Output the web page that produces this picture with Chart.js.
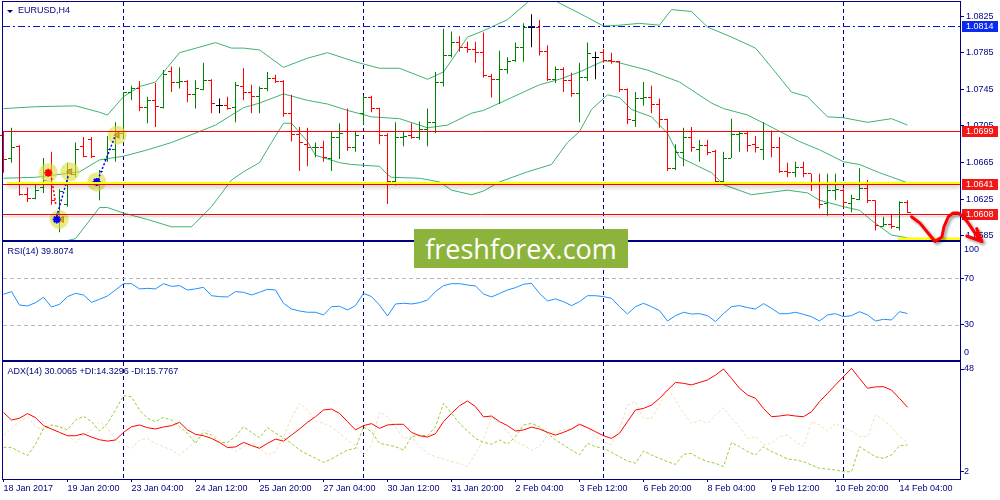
<!DOCTYPE html>
<html>
<head>
<meta charset="utf-8">
<title>EURUSD,H4</title>
<script src="https://cdn.jsdelivr.net/npm/chart.js@4.4.1/dist/chart.umd.min.js"></script>
<style>
  html, body { margin: 0; padding: 0; background: #ffffff; }
  #wrap { position: relative; width: 1000px; height: 500px; overflow: hidden; background: #ffffff; }
  #wrap canvas { position: absolute; left: 0; }
  #c-main { top: 0; z-index: 3; }
  #c-rsi  { top: 240px; z-index: 2; }
  #c-adx  { top: 360px; z-index: 1; }
  #logo {
    position: absolute; left: 414px; top: 229px; width: 214px; height: 39px; z-index: 5;
    background: #8cb43c; color: #ffffff; text-align: center;
    font: 27px "Open Sans", sans-serif; line-height: 39px;
  }
</style>
</head>
<body>
<div id="wrap">
  <canvas id="c-main" width="1000" height="250"></canvas>
  <canvas id="c-rsi" width="1000" height="122"></canvas>
  <canvas id="c-adx" width="1000" height="140"></canvas>
  <div id="logo">freshforex.com</div>
</div>
<script>
'use strict';

/* ── Data ─────────────────────────────────────────────────────────────── */

var tickBars   = [0, 8, 16, 24, 32, 40, 48, 56, 64, 72, 80, 88, 96, 104, 112];
var tickLabels = ['18 Jan 2017', '19 Jan 20:00', '23 Jan 04:00', '24 Jan 12:00', '25 Jan 20:00',
                  '27 Jan 04:00', '30 Jan 12:00', '31 Jan 20:00', '2 Feb 04:00', '3 Feb 12:00',
                  '6 Feb 20:00', '8 Feb 04:00', '9 Feb 12:00', '10 Feb 20:00', '14 Feb 04:00'];
var weekStarts = [15, 45, 75, 105];

var openP = [
  1.0695,1.0669,1.0683,1.0630,1.0626,1.0638,1.0654,1.0610,1.0619,1.0652,
  1.0683,1.0690,1.0641,1.0668,1.0679,1.0697,1.0742,1.0746,1.0725,1.0733,
  1.0725,1.0764,1.0752,1.0754,1.0739,1.0745,1.0755,1.0727,1.0727,1.0725,
  1.0748,1.0742,1.0737,1.0746,1.0757,1.0754,1.0719,1.0696,1.0685,1.0681,
  1.0682,1.0670,1.0692,1.0699,1.0682,1.0719,1.0736,1.0724,1.0695,1.0644,
  1.0692,1.0695,1.0692,1.0701,1.0709,1.0753,1.0782,1.0796,1.0791,1.0788,
  1.0785,1.0759,1.0756,1.0767,1.0777,1.0791,1.0813,1.0813,1.0786,1.0756,
  1.0767,1.0755,1.0741,1.0758,1.0780,1.0785,1.0777,1.0775,1.0745,1.0711,
  1.0735,1.0736,1.0729,1.0712,1.0659,1.0676,1.0692,1.0679,1.0684,1.0677,
  1.0644,1.0670,1.0696,1.0697,1.0685,1.0679,1.0699,1.0681,1.0655,1.0654,
  1.0660,1.0653,1.0641,1.0620,1.0635,1.0635,1.0620,1.0625,1.0637,1.0624,
  1.0595,1.0598,1.0594,1.0621];
var highP = [
  1.0699,1.0703,1.0684,1.0638,1.0641,1.0670,1.0677,1.0636,1.0665,1.0687,
  1.0693,1.0693,1.0657,1.0694,1.0709,1.0742,1.0749,1.0754,1.0737,1.0752,
  1.0766,1.0770,1.0769,1.0755,1.0755,1.0774,1.0756,1.0735,1.0737,1.0753,
  1.0768,1.0750,1.0748,1.0764,1.0761,1.0755,1.0739,1.0704,1.0703,1.0687,
  1.0689,1.0699,1.0708,1.0724,1.0699,1.0738,1.0738,1.0725,1.0697,1.0709,
  1.0699,1.0708,1.0710,1.0724,1.0764,1.0811,1.0808,1.0803,1.0797,1.0797,
  1.0807,1.0762,1.0787,1.0780,1.0796,1.0817,1.0827,1.0821,1.0793,1.0770,
  1.0769,1.0763,1.0774,1.0796,1.0786,1.0789,1.0785,1.0776,1.0746,1.0742,
  1.0753,1.0749,1.0735,1.0713,1.0685,1.0703,1.0704,1.0690,1.0690,1.0679,
  1.0677,1.0713,1.0699,1.0699,1.0694,1.0709,1.0700,1.0693,1.0665,1.0666,
  1.0666,1.0653,1.0653,1.0653,1.0653,1.0637,1.0630,1.0659,1.0646,1.0624,
  1.0606,1.0609,1.0623,1.0624];
var lowP = [
  1.0654,1.0665,1.0629,1.0622,1.0625,1.0632,1.0619,1.0589,1.0617,1.0649,
  1.0671,1.0670,1.0624,1.0666,1.0666,1.0695,1.0733,1.0721,1.0708,1.0704,
  1.0724,1.0742,1.0746,1.0731,1.0724,1.0744,1.0719,1.0719,1.0723,1.0709,
  1.0733,1.0719,1.0719,1.0743,1.0752,1.0715,1.0688,1.0656,1.0661,1.0671,
  1.0666,1.0656,1.0669,1.0678,1.0677,1.0707,1.0720,1.0685,1.0620,1.0640,
  1.0683,1.0691,1.0690,1.0683,1.0697,1.0748,1.0780,1.0786,1.0785,1.0774,
  1.0758,1.0736,1.0729,1.0762,1.0775,1.0775,1.0791,1.0782,1.0754,1.0752,
  1.0742,1.0737,1.0709,1.0754,1.0756,1.0774,1.0773,1.0742,1.0707,1.0704,
  1.0727,1.0719,1.0703,1.0656,1.0657,1.0661,1.0677,1.0666,1.0673,1.0641,
  1.0643,1.0670,1.0677,1.0677,1.0676,1.0668,1.0671,1.0654,1.0649,1.0649,
  1.0649,1.0634,1.0615,1.0607,1.0624,1.0616,1.0611,1.0624,1.0621,1.0591,
  1.0595,1.0593,1.0591,1.0610];
var closeP = [
  1.0668,1.0682,1.0630,1.0626,1.0635,1.0646,1.0624,1.0633,1.0657,1.0679,
  1.0672,1.0672,1.0655,1.0679,1.0695,1.0742,1.0746,1.0725,1.0733,1.0726,
  1.0761,1.0753,1.0754,1.0739,1.0746,1.0755,1.0730,1.0727,1.0724,1.0749,
  1.0742,1.0737,1.0746,1.0757,1.0754,1.0719,1.0696,1.0687,1.0681,1.0682,
  1.0671,1.0692,1.0697,1.0682,1.0695,1.0736,1.0724,1.0695,1.0644,1.0692,
  1.0694,1.0692,1.0701,1.0709,1.0753,1.0782,1.0796,1.0791,1.0788,1.0785,
  1.0760,1.0756,1.0767,1.0775,1.0791,1.0813,1.0813,1.0786,1.0756,1.0767,
  1.0755,1.0741,1.0758,1.0784,1.0780,1.0777,1.0775,1.0745,1.0712,1.0735,
  1.0736,1.0729,1.0712,1.0659,1.0676,1.0692,1.0682,1.0684,1.0676,1.0644,
  1.0670,1.0696,1.0697,1.0684,1.0682,1.0699,1.0681,1.0655,1.0654,1.0660,
  1.0653,1.0641,1.0619,1.0635,1.0636,1.0621,1.0626,1.0637,1.0624,1.0596,
  1.0598,1.0595,1.0621,1.0611];

// Bollinger bands, [bar, price]
var bbUpper = [[0,1.0724],[4,1.0726],[9,1.0727],[12,1.0720],[13,1.0717],[15,1.0737],[17,1.0748],
  [19,1.0753],[20.5,1.0769],[22,1.0785],[24.5,1.0791],[26.5,1.0796],[28.5,1.0790],[30,1.0790],
  [32,1.0788],[35,1.0769],[38,1.0779],[40.5,1.0785],[44,1.0775],[47,1.0768],[49.5,1.0768],
  [53,1.0756],[55,1.0764],[58,1.0802],[60,1.0809],[63,1.0821],[65.5,1.0840],[67.5,1.0851],
  [69.5,1.0839],[72,1.0828],[75,1.0814],[77,1.0815],[79.5,1.0817],[82,1.0815],[83.5,1.0832],
  [86,1.0830],[88,1.0813],[91,1.0802],[94,1.0790],[96,1.0769],[98.5,1.0742],[100.5,1.0737],
  [103,1.0715],[105,1.0714],[108,1.0709],[111,1.0713],[113,1.0706]];
var bbMiddle = [[0,1.0648],[4,1.0649],[9.5,1.0655],[12,1.0668],[15,1.0672],[18,1.0679],[21,1.0687],
  [24.5,1.0699],[26.5,1.0706],[30,1.0725],[32,1.0730],[35,1.0740],[38,1.0733],[40.5,1.0729],
  [43,1.0722],[46,1.0715],[49.5,1.0713],[53,1.0703],[55.5,1.0706],[58.5,1.0719],[60,1.0722],
  [63.5,1.0736],[67,1.0750],[69.5,1.0756],[72,1.0764],[75,1.0776],[76.5,1.0775],[80.5,1.0766],
  [84.5,1.0753],[88.5,1.0730],[90,1.0724],[93,1.0717],[95.5,1.0706],[99.5,1.0688],[102,1.0679],
  [105,1.0666],[107,1.0663],[109.5,1.0654],[113,1.0643]];
var bbLower = [[0,1.0572],[4,1.0572],[9,1.0582],[12,1.0616],[13,1.0616],[15,1.0610],[18,1.0603],
  [21,1.0595],[23.5,1.0595],[26,1.0617],[28.5,1.0646],[30,1.0655],[32,1.0665],[33.5,1.0687],
  [35,1.0708],[36,1.0708],[38,1.0688],[39,1.0673],[42,1.0665],[43.5,1.0663],[47,1.0661],
  [48,1.0652],[48.5,1.0649],[52,1.0648],[54.5,1.0644],[56,1.0635],[58.5,1.0630],[60,1.0634],
  [62,1.0644],[65.5,1.0655],[68.5,1.0663],[70.5,1.0687],[72,1.0699],[73.5,1.0723],[75.5,1.0739],
  [77,1.0736],[78.5,1.0723],[81,1.0715],[83,1.0697],[84.5,1.0671],[88.5,1.0654],[90,1.0641],
  [93.5,1.0630],[98,1.0635],[100.5,1.0632],[102,1.0624],[105,1.0617],[107,1.0613],[108.5,1.0602],
  [111,1.0586],[113,1.0583]];

var rsi = [
  56.3,58.6,47.1,46.3,49.1,53.7,45.4,47.7,54.3,57.1,
  55.7,49.4,52.0,54.9,60.0,65.4,65.4,60.9,61.4,60.9,
  65.4,63.1,63.7,60.0,60.9,62.3,55.1,54.3,54.0,58.6,
  58.0,55.7,58.0,60.6,60.0,48.6,43.7,42.0,40.9,40.9,
  38.6,45.7,46.0,42.9,46.6,57.1,54.3,47.1,37.7,48.0,
  48.6,48.0,49.1,51.4,58.6,63.7,65.4,65.4,64.3,63.4,
  56.6,54.0,57.0,60.0,62.0,64.9,65.7,57.1,50.6,52.3,
  50.0,46.6,50.0,55.1,55.1,54.3,52.9,45.7,39.4,45.7,
  48.6,45.7,42.3,33.4,38.0,40.9,39.4,39.7,38.0,32.9,
  39.7,45.7,46.6,44.9,43.7,48.3,44.3,39.7,39.7,40.9,
  39.1,37.1,33.4,38.6,39.7,37.1,38.0,41.4,38.6,33.4,
  34.9,34.3,41.4,39.8];

var adx = [
  28.6,25.2,26.0,28.1,26.3,22.7,21.2,19.7,18.2,18.2,
  19.1,17.6,16.4,15.8,16.3,19.7,22.2,23.0,21.8,21.2,
  22.1,22.7,24.2,20.8,18.8,18.2,17.0,15.2,12.9,13.2,
  15.2,13.8,12.6,14.8,16.7,15.8,18.5,21.2,24.2,26.7,
  29.7,30.1,28.2,24.5,20.8,22.7,23.6,21.5,23.0,23.3,
  23.3,19.7,18.2,17.6,19.1,24.5,28.2,31.6,33.7,31.2,
  26.6,27.0,24.5,22.7,20.3,20.8,22.0,21.2,19.7,18.5,
  19.7,21.2,23.3,21.8,20.0,18.2,17.0,19.3,24.5,29.7,
  30.4,31.9,34.9,38.6,42.0,41.6,40.9,42.0,43.1,45.3,
  48.0,43.8,39.4,36.4,34.9,30.4,26.7,27.0,27.5,27.0,
  26.7,28.9,33.4,37.1,40.9,44.6,48.3,43.8,39.4,40.0,
  40.1,38.6,34.9,30.9];
var plusDI = [
  13.0,13.0,11.1,9.3,14.4,21.5,23.0,22.2,20.8,25.2,
  26.9,24.5,20.3,23.7,29.7,36.1,35.6,29.7,26.0,24.5,
  26.4,25.2,22.2,19.3,14.8,19.7,18.5,15.2,15.2,17.8,
  22.2,19.7,17.3,21.8,19.3,17.3,14.8,11.8,9.9,8.1,
  6.3,7.8,9.9,11.8,12.6,22.2,20.0,14.8,14.1,13.3,
  11.8,17.8,18.5,18.2,22.2,32.7,28.2,23.7,20.3,17.0,
  15.2,14.4,16.3,14.4,17.8,23.0,23.7,22.2,19.3,16.3,
  14.1,11.8,9.6,14.8,13.3,12.6,10.8,8.8,6.9,5.9,
  11.4,9.6,8.1,6.6,5.4,9.9,10.3,8.1,6.6,5.9,
  4.4,15.2,13.3,11.1,9.6,13.3,11.1,9.6,7.8,7.4,
  6.6,5.1,3.6,3.3,2.9,2.1,2.1,13.3,11.1,8.8,
  8.1,9.6,13.8,14.1];
var minusDI = [
  18.5,21.5,24.5,26.7,22.2,20.8,22.7,22.2,18.5,15.2,
  18.5,20.8,24.5,21.5,16.3,14.1,12.6,16.3,17.0,14.8,
  13.3,11.8,9.6,12.6,15.5,20.8,19.7,16.3,14.1,11.1,
  13.3,14.8,12.6,9.6,11.1,17.8,26.0,32.7,29.7,24.8,
  23.7,22.2,19.3,16.3,13.8,9.6,14.1,28.9,26.7,22.2,
  17.0,17.8,13.3,10.3,8.8,7.8,6.6,5.9,4.4,10.3,
  16.3,26.7,23.7,20.0,15.5,14.1,11.8,13.3,18.5,20.0,
  20.8,21.5,23.7,21.5,17.8,15.5,14.1,21.5,31.9,33.4,
  26.0,26.0,31.9,39.4,34.2,28.2,23.7,25.2,23.7,27.5,
  30.7,26.0,22.2,17.0,17.8,14.1,14.8,17.8,18.5,15.5,
  13.3,24.5,23.0,20.3,23.7,21.5,20.3,17.8,17.8,27.5,
  25.2,22.2,17.8,15.2];

var priceTicks = [1.0585, 1.0625, 1.0665, 1.0705, 1.0745, 1.0785, 1.0825];
var levels     = [1.0814, 1.0699, 1.0641, 1.0608];

// trade marks and hand-drawn annotations, [bar, price]
var tradeCircles = [[5.6,1.0654],[8.3,1.0655],[6.95,1.0603],[11.65,1.0644],[14.2,1.0695]];
var sellMarks    = [[5.6,1.0654]];
var buyMarks     = [[6.65,1.0603],[11.65,1.0644]];
var exitMarks    = [[7.27,1.0603],[8.31,1.0655],[14.23,1.0695]];
var buyPathA     = [[6.65,1.0606],[8.1,1.0651]];
var buyPathB     = [[11.8,1.0646],[13.9,1.0693]];
var sellPath     = [[6.0,1.0648],[6.55,1.0619]];
var highlightPrice = [1.0643, 1.0582];
var highlightFrom  = [0.45, 111.8];
var arrowBars   = [113.5, 114.56, 115.4, 116.44, 117.3, 117.56, 118.1, 118.7, 119.35, 119.97, 120.6, 121.44, 122.3];
var arrowPrices = [1.0606, 1.0599, 1.0590, 1.0579, 1.0584, 1.0595, 1.0606, 1.0610, 1.0610, 1.0606, 1.0599, 1.0588, 1.0579];
var arrowHead   = [[120.4,1.0585],[121.65,1.0593]];

/* ── Look ──────────────────────────────────────────────────────────────── */

var NAVY = '#000080';
var FONT = '9px "Liberation Sans", Arial, sans-serif';
var UP = '#008000', DOWN = '#ff0000', DOJI = '#000000';
var BB = '#3cb371';

Chart.defaults.font.family = '"Liberation Sans", Arial, sans-serif';
Chart.defaults.font.size = 9;
Chart.defaults.color = NAVY;

// 8 px per bar over a 957 px plot area
var X_MIN = -0.0625;
var X_MAX = X_MIN + 957 / 8;

function barColor(i) {
  return closeP[i] > openP[i] ? UP : (closeP[i] < openP[i] ? DOWN : DOJI);
}
function pts(pairs) { return pairs.map(function (p) { return { x: p[0], y: p[1] }; }); }
function series(arr) { return arr.map(function (v, i) { return { x: i, y: v }; }); }

function xAxis(show) {
  return {
    type: 'linear', min: X_MIN, max: X_MAX, display: show, offset: false,
    grid: { offset: false, drawOnChartArea: false, drawTicks: true, tickLength: 3, color: NAVY },
    border: { display: false },
    ticks: {
      color: NAVY, align: 'start', autoSkip: false, maxRotation: 0, minRotation: 0, padding: 1,
      callback: function (v) { var k = tickBars.indexOf(v); return k < 0 ? '' : tickLabels[k]; }
    },
    afterBuildTicks: function (s) { s.ticks = tickBars.map(function (b) { return { value: b }; }); },
    afterFit: function (s) { s.paddingLeft = 0; s.paddingRight = 0; if (show) s.height = 21; }
  };
}

function yAxis(min, max, ticks, fmt, pad) {
  return {
    position: 'right', min: min, max: max,
    grid: { drawOnChartArea: false, drawTicks: true, tickLength: 4, color: NAVY },
    border: { display: false },
    ticks: { color: NAVY, padding: pad, autoSkip: false, callback: fmt },
    afterBuildTicks: function (s) { s.ticks = ticks.map(function (v) { return { value: v }; }); },
    afterFit: function (s) { s.width = 40; s.paddingTop = 0; s.paddingBottom = 0; }
  };
}

function options(pad, scales) {
  return {
    responsive: false, animation: false, events: [],
    layout: { padding: pad, autoPadding: false },
    plugins: { legend: { display: false }, tooltip: { enabled: false } },
    scales: scales
  };
}

/* ── Shared panel plugin: frame, week separators, caption ──────────────── */

function panelPlugin(caption, withArrowHead) {
  return {
    id: 'panel',
    beforeDatasetsDraw: function (chart) {
      var ctx = chart.ctx, a = chart.chartArea, x = chart.scales.x;
      ctx.save();
      ctx.strokeStyle = NAVY; ctx.lineWidth = 1; ctx.setLineDash([4, 3]);
      weekStarts.forEach(function (b) {
        var px = x.getPixelForValue(b);
        ctx.beginPath(); ctx.moveTo(px, a.top); ctx.lineTo(px, a.bottom); ctx.stroke();
      });
      ctx.restore();
    },
    afterDraw: function (chart) {
      var ctx = chart.ctx, a = chart.chartArea;
      ctx.save();
      ctx.strokeStyle = NAVY; ctx.lineWidth = 1;
      ctx.strokeRect(a.left - 0.5, a.top - 0.5, a.right - a.left + 1, a.bottom - a.top + 1);
      ctx.fillStyle = NAVY; ctx.font = FONT; ctx.textBaseline = 'middle'; ctx.textAlign = 'left';
      if (withArrowHead) {
        ctx.beginPath(); ctx.moveTo(7, 10); ctx.lineTo(13, 10); ctx.lineTo(10, 13); ctx.closePath(); ctx.fill();
        ctx.fillText(caption, 18, a.top + 9);
      } else {
        ctx.fillText(caption, a.left + 4.5, a.top + 9.5);
      }
      ctx.restore();
    }
  };
}

/* ── Main price panel ──────────────────────────────────────────────────── */

var mainExtras = {
  id: 'mainExtras',
  afterDatasetDraw: function (chart, args) {
    if (args.meta.type !== 'bar') return;
    var ctx = chart.ctx, x = chart.scales.x, y = chart.scales.y;
    ctx.save();
    for (var i = 0; i < openP.length; i++) {
      var px = x.getPixelForValue(i);
      ctx.fillStyle = barColor(i);
      ctx.fillRect(px - 3.5, Math.round(y.getPixelForValue(openP[i]) - 0.5), 3, 1);
      ctx.fillRect(px + 0.5, Math.round(y.getPixelForValue(closeP[i]) - 0.5), 3, 1);
    }
    ctx.restore();
  },
  afterDatasetsDraw: function (chart) {
    var ctx = chart.ctx, a = chart.chartArea, x = chart.scales.x, y = chart.scales.y;
    ctx.save();
    ctx.beginPath(); ctx.rect(a.left, a.top, a.right - a.left, a.bottom - a.top); ctx.clip();

    // yellow highlighter strokes with soft shadow
    ctx.save();
    ctx.shadowColor = 'rgba(0,0,0,0.35)'; ctx.shadowBlur = 4; ctx.shadowOffsetY = 3;
    ctx.strokeStyle = '#ffff00';
    highlightPrice.forEach(function (p, k) {
      var py = Math.round(y.getPixelForValue(p));
      ctx.lineWidth = k === 0 ? 2 : 3;
      ctx.beginPath(); ctx.moveTo(x.getPixelForValue(highlightFrom[k]), py); ctx.lineTo(a.right, py); ctx.stroke();
    });
    ctx.restore();

    // horizontal levels
    levels.forEach(function (p, k) {
      var py = Math.floor(y.getPixelForValue(p)) + 0.5;
      ctx.save();
      ctx.lineWidth = 1;
      if (k === 0) { ctx.strokeStyle = '#0018c8'; ctx.setLineDash([7, 3, 2, 3]); }
      else { ctx.strokeStyle = '#ff0000'; }
      if (k === 3) { ctx.shadowColor = 'rgba(0,0,0,0.25)'; ctx.shadowBlur = 2; ctx.shadowOffsetY = 2; }
      ctx.beginPath(); ctx.moveTo(a.left, py); ctx.lineTo(a.right, py); ctx.stroke();
      ctx.restore();
    });
    ctx.restore();
  },
  afterDraw: function (chart) {
    var ctx = chart.ctx, a = chart.chartArea, x = chart.scales.x, y = chart.scales.y;
    ctx.save();
    ctx.font = FONT; ctx.textBaseline = 'middle'; ctx.textAlign = 'left';
    levels.forEach(function (p, k) {
      var py = Math.floor(y.getPixelForValue(p)) + 0.5;
      ctx.fillStyle = k === 0 ? '#0a2af0' : '#f21818';
      ctx.fillRect(a.right + 2, Math.round(py - 6), 36, 11);
      ctx.fillStyle = '#ffffff';
      ctx.fillText(p.toFixed(4), a.right + 6, py);
    });

    // hand-drawn red arrow
    ctx.strokeStyle = '#ff0000'; ctx.lineWidth = 3; ctx.lineJoin = 'round'; ctx.lineCap = 'round';
    ctx.shadowColor = 'rgba(0,0,0,0.4)'; ctx.shadowBlur = 3; ctx.shadowOffsetX = 2; ctx.shadowOffsetY = 2;
    ctx.beginPath();
    arrowBars.forEach(function (b, k) {
      var px = x.getPixelForValue(b), py = y.getPixelForValue(arrowPrices[k]);
      if (k) ctx.lineTo(px, py); else ctx.moveTo(px, py);
    });
    var last = arrowBars.length - 1;
    var tx = x.getPixelForValue(arrowBars[last]), ty = y.getPixelForValue(arrowPrices[last]);
    arrowHead.forEach(function (w) {
      ctx.moveTo(x.getPixelForValue(w[0]), y.getPixelForValue(w[1])); ctx.lineTo(tx, ty);
    });
    ctx.stroke();
    ctx.restore();
  }
};

var bars = openP.map(function (_, i) { return { x: i, y: [lowP[i], highP[i]] }; });
var barColors = openP.map(function (_, i) { return barColor(i); });

function bbLine(pairs) {
  return { type: 'line', data: pts(pairs), borderColor: BB, borderWidth: 1, pointRadius: 0, tension: 0, order: 5 };
}
function pathLine(pairs, color, dash) {
  return { type: 'line', data: pts(pairs), borderColor: color, borderWidth: 1.5, borderDash: dash,
           pointRadius: 0, tension: 0, order: 1 };
}

new Chart(document.getElementById('c-main'), {
  type: 'bar',
  data: {
    datasets: [
      { type: 'scatter', data: pts(sellMarks), pointStyle: 'star', pointRadius: 4,
        borderColor: '#ff0000', borderWidth: 2, order: 0 },
      { type: 'scatter', data: pts(buyMarks), pointStyle: 'star', pointRadius: 4,
        borderColor: '#0000ff', borderWidth: 2, order: 0 },
      { type: 'scatter', data: pts(exitMarks), pointStyle: 'triangle', rotation: -90, pointRadius: 3.5,
        backgroundColor: '#e8a317', borderColor: '#c8870e', borderWidth: 1, order: 0 },
      pathLine(buyPathA, '#0000ff', [2, 2]),
      pathLine(buyPathB, '#0000ff', [2, 2]),
      pathLine(sellPath, '#ff0000', [2, 2]),
      { type: 'scatter', data: pts(tradeCircles), pointStyle: 'circle', pointRadius: 9,
        backgroundColor: 'rgba(222,222,70,0.62)', borderColor: 'rgba(222,222,70,0.3)', borderWidth: 2, order: 2 },
      { type: 'bar', data: bars, backgroundColor: barColors, barThickness: 1, inflateAmount: 0,
        borderWidth: 0, order: 3 },
      bbLine(bbUpper), bbLine(bbMiddle), bbLine(bbLower)
    ]
  },
  options: options({ left: 3, top: 2, right: 0, bottom: 10 }, {
    x: xAxis(false),
    y: yAxis(1.05806, 1.08403, priceTicks, function (v) { return v.toFixed(4); }, 2)
  }),
  plugins: [panelPlugin('EURUSD,H4', true), mainExtras]
});

/* ── RSI panel ─────────────────────────────────────────────────────────── */

var rsiExtras = {
  id: 'rsiExtras',
  beforeDatasetsDraw: function (chart) {
    var ctx = chart.ctx, a = chart.chartArea, y = chart.scales.y;
    ctx.save();
    ctx.strokeStyle = '#b8b8b8'; ctx.lineWidth = 1; ctx.setLineDash([4, 3]);
    [30, 70].forEach(function (v) {
      var py = Math.round(y.getPixelForValue(v)) + 0.5;
      ctx.beginPath(); ctx.moveTo(a.left, py); ctx.lineTo(a.right, py); ctx.stroke();
    });
    ctx.restore();
  },
  afterDraw: function (chart) {
    var ctx = chart.ctx, a = chart.chartArea;
    ctx.save();
    ctx.fillStyle = NAVY; ctx.font = FONT; ctx.textBaseline = 'middle'; ctx.textAlign = 'left';
    ctx.fillText('100', a.right + 4, a.top + 8);
    ctx.fillText('0', a.right + 4, a.bottom - 7);
    ctx.restore();
  }
};

new Chart(document.getElementById('c-rsi'), {
  type: 'line',
  data: { datasets: [
    { data: series(rsi), borderColor: '#1e90ff', borderWidth: 1, pointRadius: 0, tension: 0 }
  ] },
  options: options({ left: 3, top: 2, right: 0, bottom: 2 }, {
    x: xAxis(false),
    y: yAxis(0, 101.1, [30, 70], function (v) { return String(v); }, 0)
  }),
  plugins: [panelPlugin('RSI(14) 39.8074', false), rsiExtras]
});

/* ── ADX panel ─────────────────────────────────────────────────────────── */

new Chart(document.getElementById('c-adx'), {
  type: 'line',
  data: { datasets: [
    { data: series(adx), borderColor: '#ff0000', borderWidth: 1, pointRadius: 0, tension: 0 },
    { data: series(plusDI), borderColor: '#9acd32', borderWidth: 1, borderDash: [3, 2], pointRadius: 0, tension: 0 },
    { data: series(minusDI), borderColor: '#f5deb3', borderWidth: 1, borderDash: [3, 2], pointRadius: 0, tension: 0 }
  ] },
  options: options({ left: 3, top: 2, right: 0, bottom: 0 }, {
    x: xAxis(true),
    y: yAxis(-1.13, 51.13, [2, 48], function (v) { return String(v); }, 0)
  }),
  plugins: [panelPlugin('ADX(14) 30.0065 +DI:14.3296 -DI:15.7767', false)]
});
</script>
</body>
</html>
